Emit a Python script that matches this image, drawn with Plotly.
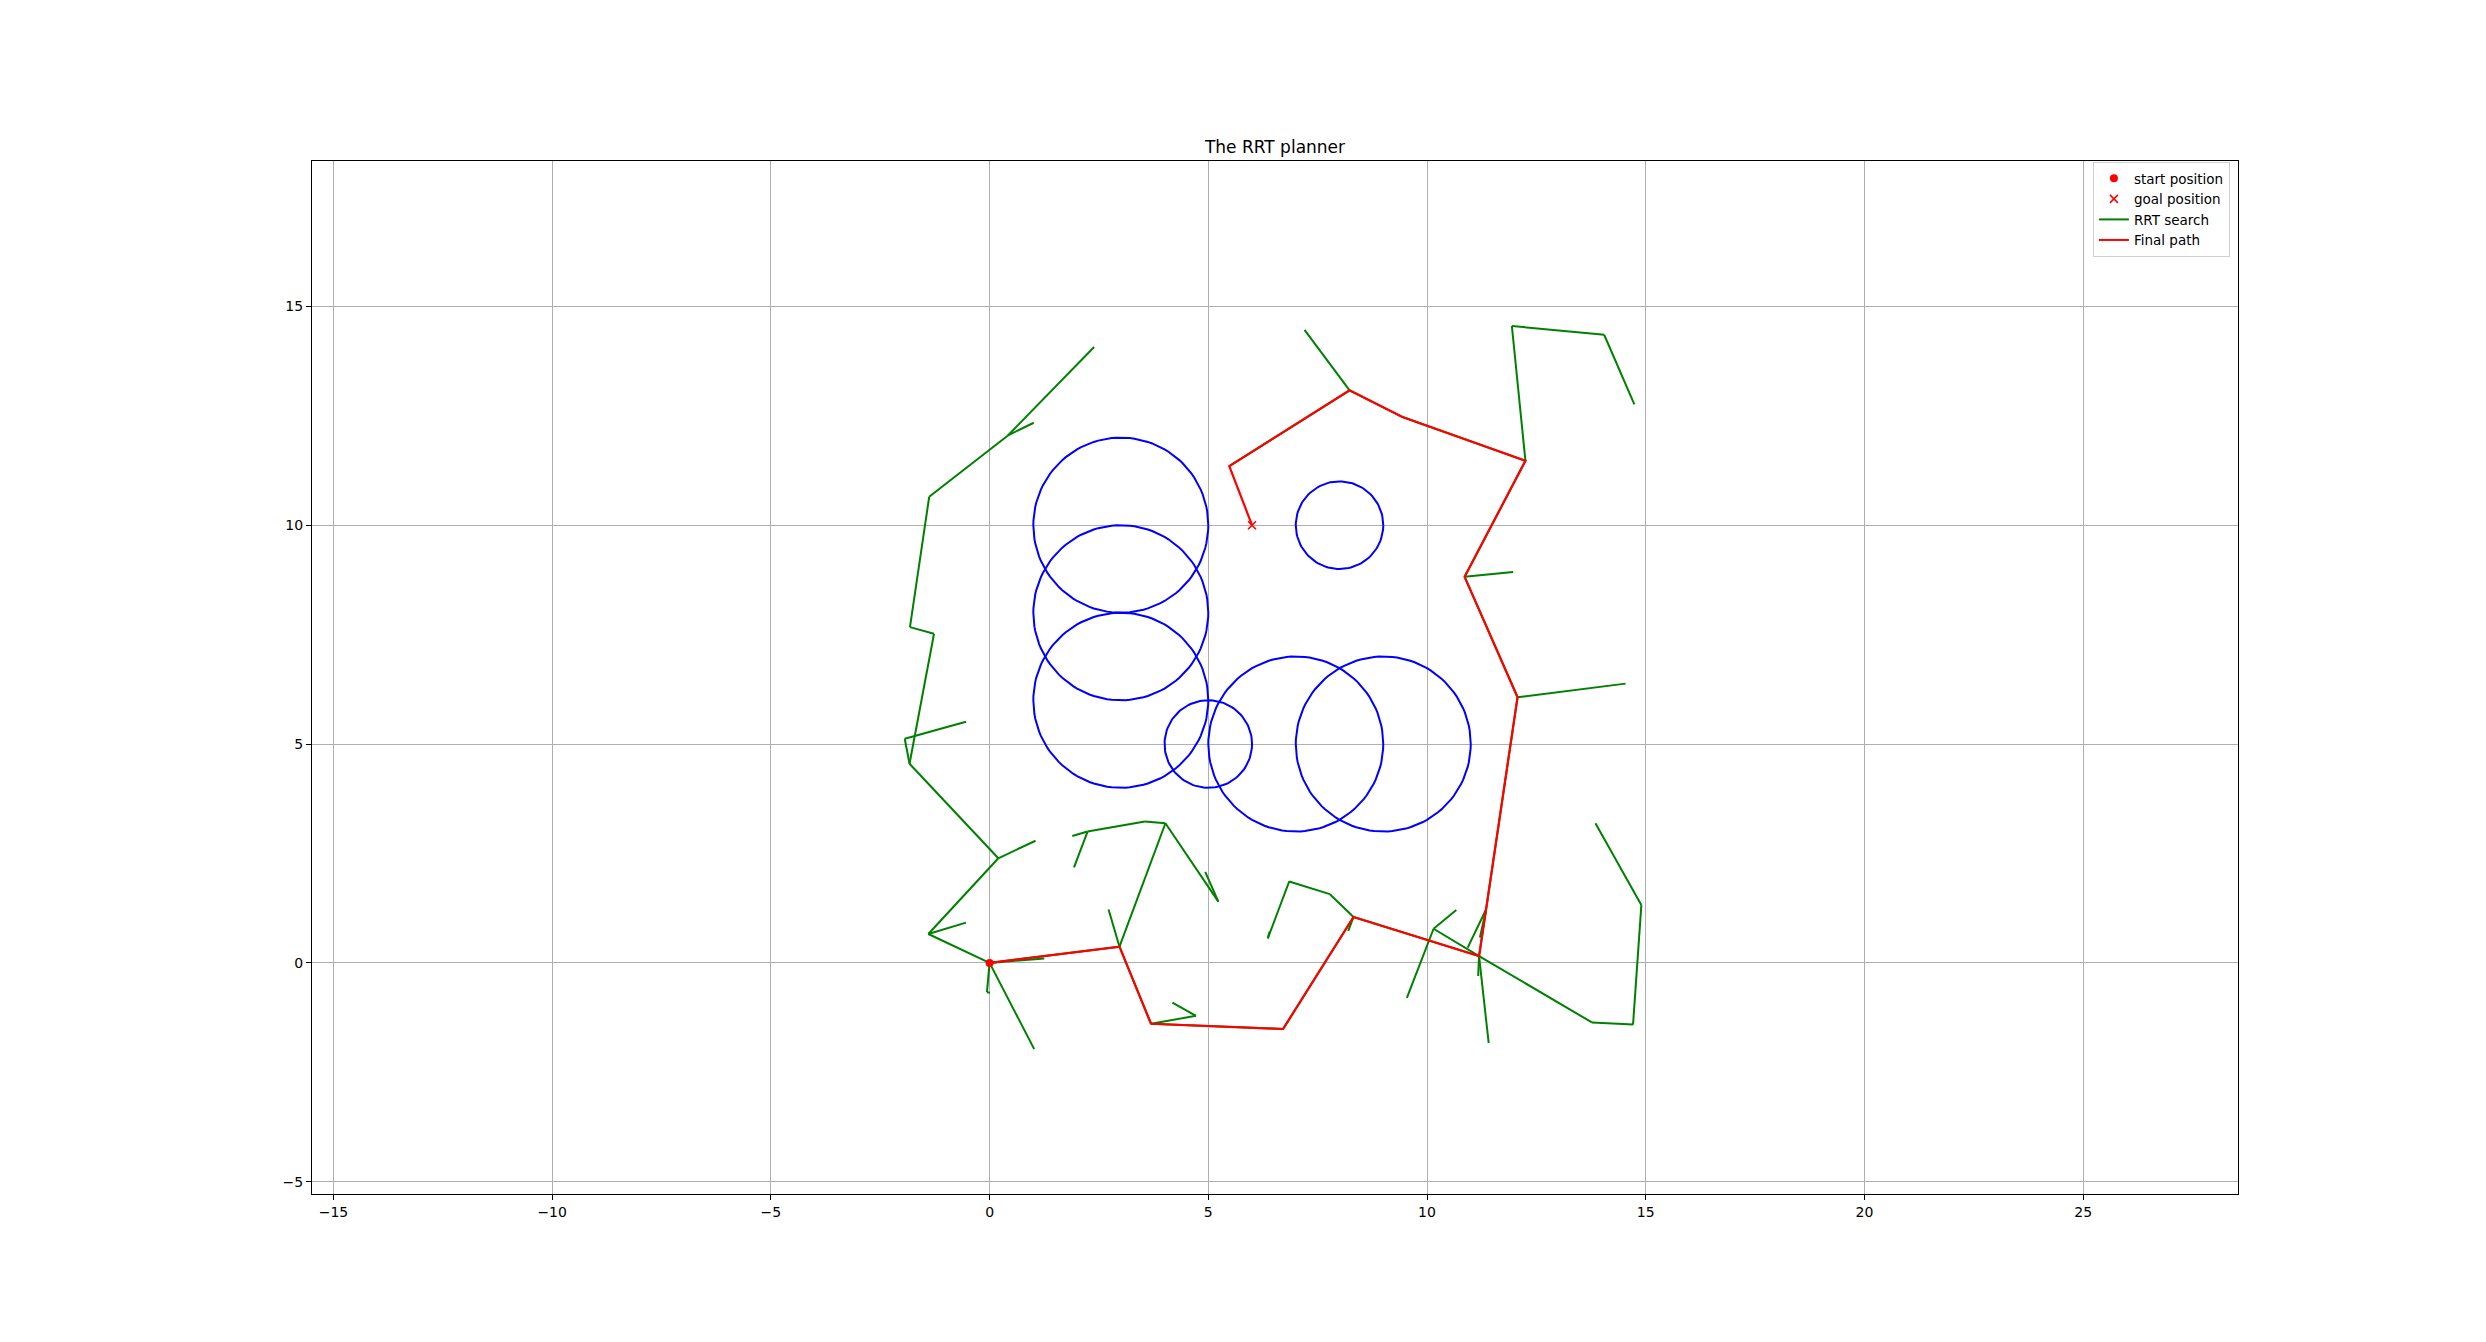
import numpy as np
import plotly.graph_objects as go

# ---------------- data ----------------
title_text = "The RRT planner"

start_xy = (0.0, 0.0)
goal_xy = (6.0, 10.0)

# obstacles (center x, center y, radius)
obs_x = [5, 3, 3, 3, 7, 9, 8]
obs_y = [5, 6, 8, 10, 5, 5, 10]
obs_r = [1, 2, 2, 2, 2, 2, 1]

# RRT tree nodes and their parent index (-1 = root)
node_x = [0.00, 1.25, -0.06, 0.01, 1.02, -1.40, -0.54, 0.20, 1.05, -1.83,
          -1.94, -0.54, -1.27, -1.82, -1.38, 0.42, 2.39, 1.01, 2.97, 2.72,
          4.02, 3.55, 2.24, 1.89, 1.93, 5.23, 4.93, 3.69, 4.72, 4.18,
          6.71, 8.32, 7.78, 6.85, 6.36, 6.40, 8.20, 11.19, 10.15, 10.67,
          9.54, 13.77, 14.71, 14.90, 13.85, 11.41, 11.17, 11.35, 10.93, 11.21,
          12.07, 14.54, 10.86, 11.97, 12.25, 11.94, 14.05, 14.74, 9.44, 8.23,
          7.20, 5.48]
node_y = [0.00, 0.10, -0.67, -0.68, -1.97, 0.66, 0.92, 2.39, 2.79, 4.55,
          5.12, 5.51, 7.52, 7.67, 10.65, 12.05, 14.07, 12.34, 0.37, 1.22,
          3.19, 3.23, 3.00, 2.90, 2.18, 1.40, 2.08, -1.39, -1.21, -0.91,
          -1.51, 1.05, 1.57, 1.86, 0.56, 0.71, 0.73, 0.155, 0.78, 1.21,
          -0.80, -1.36, -1.41, 1.32, 3.19, -1.83, -0.30, 1.22, 0.35, 0.58,
          6.07, 6.38, 8.82, 8.93, 11.47, 14.55, 14.35, 12.76, 12.47, 13.08,
          14.46, 11.35]
node_parent = [-1, 0, 0, 2, 0, 0, 5, 5, 7, 7,
               9, 10, 9, 12, 13, 14, 15, 15, 0, 18,
               18, 20, 21, 22, 22, 20, 25, 18, 27, 28,
               27, 30, 31, 32, 33, 34, 31, 31, 37, 38,
               38, 37, 41, 42, 43, 37, 37, 37, 47, 47,
               47, 50, 50, 52, 52, 54, 55, 56, 54, 58,
               59, 59]

# final path from start to goal
path_x = [0.00, 2.97, 3.69, 6.71, 8.32, 11.19, 11.35, 12.07, 10.86, 12.25, 9.44, 8.23, 5.48, 6.00]
path_y = [0.00, 0.37, -1.39, -1.51, 1.05, 0.155, 1.22, 6.07, 8.82, 11.47, 12.47, 13.08, 11.35, 10.00]

x_ticks = [-15, -10, -5, 0, 5, 10, 15, 20, 25]
y_ticks = [-5, 0, 5, 10, 15]
x_range = [-15.49, 28.54]
y_range = [-5.28, 18.32]

# ---------------- figure ----------------
FONT = "DejaVu Sans"
fig = go.Figure()

# RRT tree edges
tx, ty = [], []
for i, p in enumerate(node_parent):
    if p < 0:
        continue
    tx += [node_x[p], node_x[i], None]
    ty += [node_y[p], node_y[i], None]

# obstacles
theta = np.linspace(0, 2 * np.pi, 121)
cx, cy = [], []
for x0, y0, r in zip(obs_x, obs_y, obs_r):
    cx += list(x0 + r * np.cos(theta)) + [None]
    cy += list(y0 + r * np.sin(theta)) + [None]

fig.add_trace(go.Scatter(x=tx, y=ty, mode="lines", name="RRT search",
                         line=dict(color="#008000", width=2), showlegend=False))
fig.add_trace(go.Scatter(x=cx, y=cy, mode="lines", line=dict(color="#0000ff", width=2),
                         showlegend=False, hoverinfo="skip"))
fig.add_trace(go.Scatter(x=path_x, y=path_y, mode="lines", name="Final path",
                         line=dict(color="#ff0000", width=2.2), showlegend=False))

# legend-ordered traces
fig.add_trace(go.Scatter(x=[start_xy[0]], y=[start_xy[1]], mode="markers", name="start position",
                         marker=dict(color="#ff0000", size=8, symbol="circle")))
fig.add_trace(go.Scatter(x=[goal_xy[0]], y=[goal_xy[1]], mode="markers", name="goal position",
                         marker=dict(color="#ff0000", size=8, symbol="x-thin",
                                     line=dict(color="#ff0000", width=1.5))))
fig.add_trace(go.Scatter(x=[None], y=[None], mode="lines", name="RRT search",
                         line=dict(color="#008000", width=2)))
fig.add_trace(go.Scatter(x=[None], y=[None], mode="lines", name="Final path",
                         line=dict(color="#ff0000", width=2)))

axis_common = dict(
    showgrid=True, gridcolor="#b0b0b0", gridwidth=1, zeroline=False,
    showline=True, linecolor="black", linewidth=1, mirror=True,
    ticks="outside", ticklen=5, tickwidth=1, tickcolor="black",
    tickfont=dict(family=FONT, size=14, color="black"),
)

fig.update_layout(
    width=2486, height=1342,
    margin=dict(l=312, r=248, t=161, b=148),
    paper_bgcolor="white", plot_bgcolor="white",
    title=dict(text=title_text, x=0.5, xref="paper", xanchor="center",
               y=1 - 147 / 1342, yref="container", yanchor="middle",
               font=dict(family=FONT, size=17, color="black")),
    xaxis=dict(range=x_range, tickvals=x_ticks, **axis_common),
    yaxis=dict(range=y_range, tickvals=y_ticks, **axis_common),
    legend=dict(x=0.9958, y=0.999, xanchor="right", yanchor="top",
                bgcolor="rgba(255,255,255,0.8)", bordercolor="#d0d0d0", borderwidth=1,
                font=dict(family=FONT, size=13.5, color="black"),
                itemwidth=30, tracegroupgap=0),
    showlegend=True,
)

fig.write_html("out.html")
